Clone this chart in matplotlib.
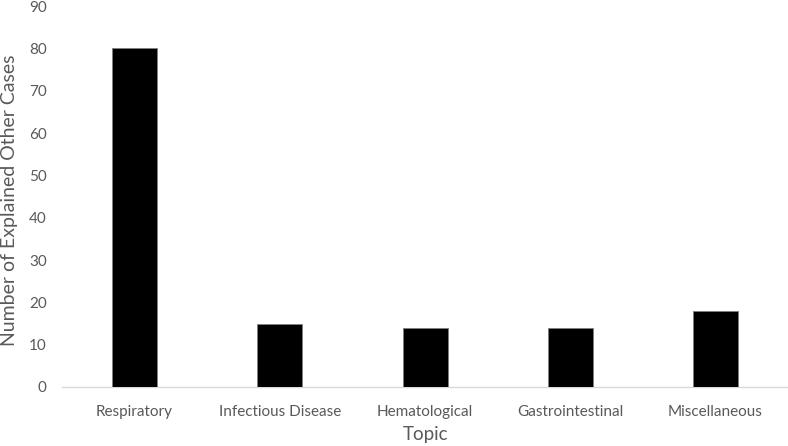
import matplotlib
matplotlib.use("Agg")
import matplotlib.pyplot as plt

# data
topics = ["Respiratory", "Infectious Disease", "Hematological", "Gastrointestinal", "Miscellaneous"]
cases = [80, 15, 14, 14, 18]
yticks = list(range(0, 100, 10))

plt.rcParams['font.family'] = ['Lato', 'DejaVu Sans']
grey = '#595959'

fig = plt.figure(figsize=(7.88, 4.46), dpi=100)
ax = fig.add_axes([0.0787, 0.1323, 0.9213, 0.854])

x = range(len(topics))
ax.bar(x, cases, width=0.31, color='black', edgecolor='#7f7f7f', linewidth=0.6, zorder=3)

ax.set_xlim(-0.5, len(topics) - 0.5)
ax.set_ylim(0, 90)
ax.set_yticks(yticks)
ax.set_xticks(list(x))
ax.set_xticklabels(topics)

for s in ['top', 'right', 'left']:
    ax.spines[s].set_visible(False)
ax.spines['bottom'].set_color('#d9d9d9')
ax.spines['bottom'].set_linewidth(1.0)

ax.tick_params(axis='both', length=0, labelsize=11, labelcolor=grey)
ax.tick_params(axis='x', pad=13)
ax.tick_params(axis='y', pad=11)

ax.set_xlabel('Topic', fontsize=13.5, color=grey, labelpad=5)
ax.set_ylabel('Number of Explained Other Cases', fontsize=14, color=grey)
ax.yaxis.set_label_coords(-0.06, 0.49)

fig.savefig('out.png', dpi=100)
